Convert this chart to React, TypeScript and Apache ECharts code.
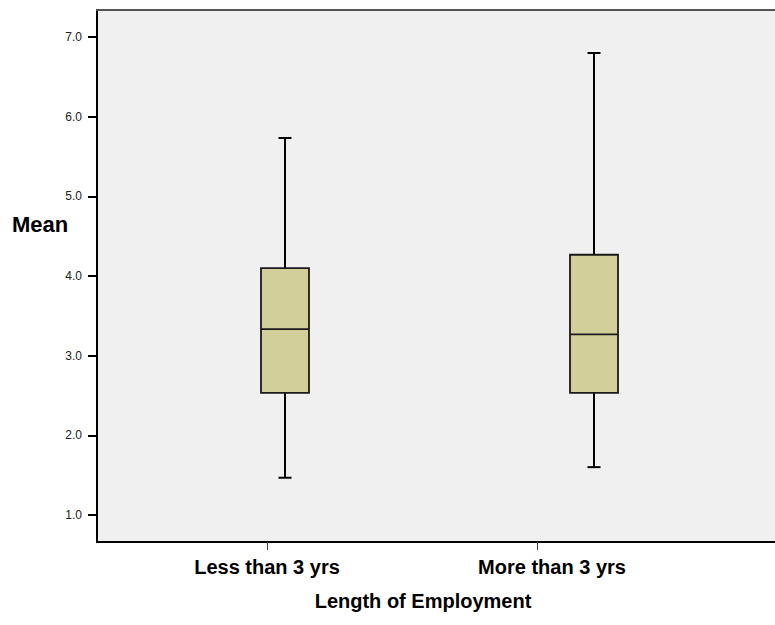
import React, { useEffect, useRef } from "react";
import * as echarts from "echarts";

const categories = ["Less than 3 yrs", "More than 3 yrs"];
const lowWhisker = [1.467, 1.6];
const q1 = [2.533, 2.533];
const median = [3.333, 3.267];
const q3 = [4.1, 4.267];
const highWhisker = [5.733, 6.8];
const yTicks = [1, 2, 3, 4, 5, 6, 7];

const FONT = "'Liberation Sans', Arial, sans-serif";
const Y_MIN = 0.66;
const Y_MAX = 7.34;

export default function App() {
  const ref = useRef<HTMLDivElement>(null);

  useEffect(() => {
    document.body.style.margin = "0";
    document.body.style.overflow = "hidden";
    document.documentElement.style.overflow = "hidden";
    if (!ref.current) return;
    const chart = echarts.init(ref.current, null, { renderer: "svg" });

    const data = categories.map((_, i) => [i, lowWhisker[i], q1[i], median[i], q3[i], highWhisker[i]]);

    const renderItem = (params: any, api: any) => {
      const x = api.value(0);
      const lo = api.coord([x, api.value(1)]);
      const b1 = api.coord([x, api.value(2)]);
      const md = api.coord([x, api.value(3)]);
      const b3 = api.coord([x, api.value(4)]);
      const hi = api.coord([x, api.value(5)]);
      const cx = lo[0];
      const halfBox = 24;
      const halfCap = 6.5;
      const whisk = { stroke: "#000", lineWidth: 2 };
      return {
        type: "group",
        children: [
          { type: "line", shape: { x1: cx, y1: b3[1], x2: cx, y2: hi[1] }, style: whisk },
          { type: "line", shape: { x1: cx, y1: b1[1], x2: cx, y2: lo[1] }, style: whisk },
          { type: "line", shape: { x1: cx - halfCap, y1: hi[1], x2: cx + halfCap, y2: hi[1] }, style: whisk },
          { type: "line", shape: { x1: cx - halfCap, y1: lo[1], x2: cx + halfCap, y2: lo[1] }, style: whisk },
          {
            type: "rect",
            shape: { x: cx - halfBox, y: b3[1], width: halfBox * 2, height: b1[1] - b3[1] },
            style: { fill: "#d3cf9a", stroke: "#1a1a1a", lineWidth: 1.8 },
          },
          { type: "line", shape: { x1: cx - halfBox, y1: md[1], x2: cx + halfBox, y2: md[1] }, style: { stroke: "#1a1a1a", lineWidth: 1.8 } },
        ],
      };
    };

    const hiddenY = (gi: number) => ({ gridIndex: gi, type: "value", min: Y_MIN, max: Y_MAX, show: false, splitLine: { show: false } });

    chart.setOption({
      animation: false,
      textStyle: { fontFamily: FONT },
      grid: [
        { left: 97, right: 0, top: 10, bottom: 83, show: true, backgroundColor: "#f0f0f0", borderWidth: 0 },
        { left: 130.5, right: 26.5, top: 10, bottom: 83 },
        { left: 267, right: 238, top: 10, bottom: 83 },
      ],
      xAxis: [
        {
          gridIndex: 0, type: "value", min: 0, max: 1, position: "bottom",
          axisLine: { show: true, lineStyle: { color: "#000", width: 2 } },
          axisTick: { show: false }, axisLabel: { show: false }, splitLine: { show: false },
        },
        { gridIndex: 1, type: "category", data: categories, show: false },
        {
          gridIndex: 2, type: "category", data: categories, position: "bottom", boundaryGap: false,
          axisLine: { show: false },
          axisTick: { show: true, length: 8, lineStyle: { color: "#444", width: 1 } },
          splitLine: { show: false },
          axisLabel: {
            margin: 15, fontSize: 20, fontWeight: "bold", color: "#000", fontFamily: FONT,
            formatter: (v: string, i: number) => (i === 1 ? "{b|" + v + "}" : "{a|" + v + "}"),
            rich: {
              a: { fontSize: 20, fontWeight: "bold", color: "#000", fontFamily: FONT },
              b: { fontSize: 20, fontWeight: "bold", color: "#000", fontFamily: FONT, padding: [0, 0, 0, 30] },
            },
          },
        },
        {
          gridIndex: 0, type: "value", min: 0, max: 1, position: "top",
          axisLine: { show: true, lineStyle: { color: "#555", width: 2 } },
          axisTick: { show: false }, axisLabel: { show: false }, splitLine: { show: false },
        },
      ],
      yAxis: [
        {
          gridIndex: 0, type: "value", min: Y_MIN, max: Y_MAX,
          axisLine: { show: true, lineStyle: { color: "#000", width: 2 } },
          axisTick: { show: true, length: 9, customValues: yTicks, lineStyle: { color: "#000", width: 2 } },
          axisLabel: {
            customValues: yTicks, margin: 15, fontSize: 12, color: "#222", fontFamily: FONT,
            formatter: (v: number) => v.toFixed(1),
          },
          splitLine: { show: false },
        },
        hiddenY(1),
        hiddenY(2),
      ],
      series: [
        {
          type: "custom",
          coordinateSystem: "cartesian2d",
          xAxisIndex: 1,
          yAxisIndex: 1,
          encode: { x: 0, y: [1, 2, 3, 4, 5] },
          data,
          renderItem,
        },
      ],
      graphic: [
        {
          type: "text", left: 12, top: 213,
          style: { text: "Mean", font: "bold 22px " + FONT, fill: "#000" },
        },
        {
          type: "text", x: 423, y: 601,
          style: { text: "Length of Employment", font: "bold 20px " + FONT, fill: "#000", align: "center", verticalAlign: "middle" },
        },
      ],
    });

    return () => chart.dispose();
  }, []);

  return <div ref={ref} style={{ width: 775, height: 625 }} />;
}
